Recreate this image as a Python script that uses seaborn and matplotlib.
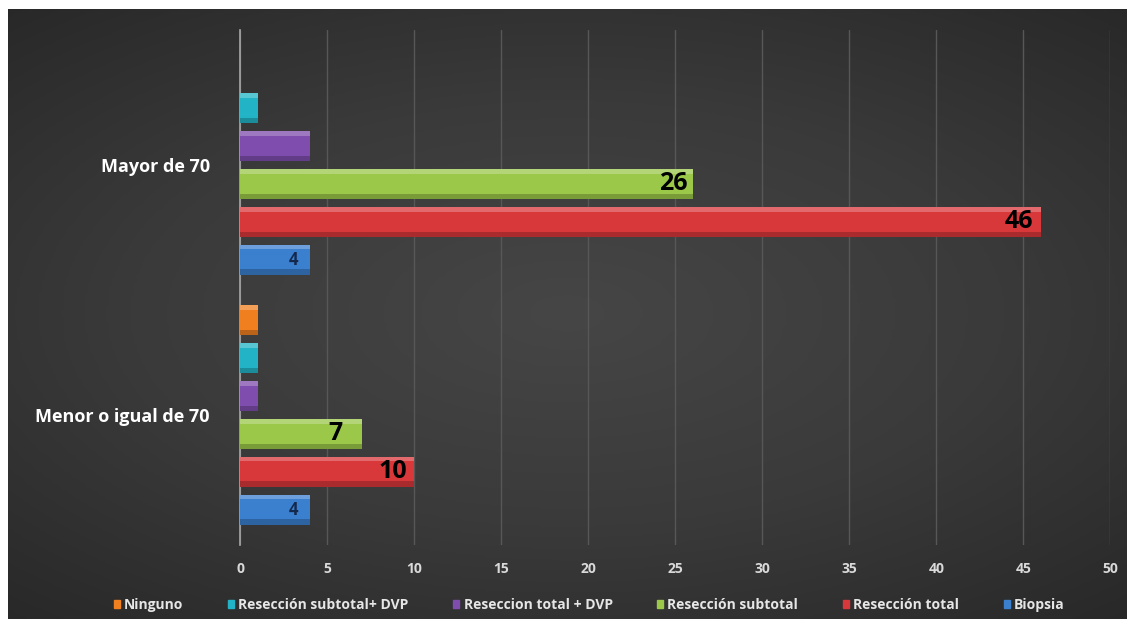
import numpy as np
import pandas as pd
import matplotlib
matplotlib.use("Agg")
import matplotlib.pyplot as plt
import seaborn as sns

# data
groups = ["Mayor de 70", "Menor o igual de 70"]
tratamientos = ["Ninguno", "Resección subtotal+ DVP", "Reseccion total + DVP",
                "Resección subtotal", "Resección total", "Biopsia"]
mayor = [0, 1, 4, 26, 46, 4]
menor = [1, 1, 1, 7, 10, 4]
colores = ["#F0801F", "#22B4C6", "#7E4DAE", "#9CC84A", "#D9383B", "#3B80CF"]
x_ticks = [0, 5, 10, 15, 20, 25, 30, 35, 40, 45, 50]

df = pd.DataFrame({
    "grupo": [groups[0]] * 6 + [groups[1]] * 6,
    "tratamiento": tratamientos * 2,
    "n": mayor + menor,
})

sns.set_style("dark")
plt.rcParams["font.family"] = ["Open Sans", "DejaVu Sans"]

fig = plt.figure(figsize=(11.33, 6.27), dpi=100)
fig.patch.set_facecolor("white")

# dark radial-ish background panel
bg = fig.add_axes([0.007, 0.012, 0.987, 0.973])
yy, xx = np.mgrid[-1:1:200j, -1:1:400j]
r = np.sqrt(xx ** 2 * 0.8 + yy ** 2)
bg.imshow(r, cmap=matplotlib.colors.LinearSegmentedColormap.from_list(
    "bgc", ["#464646", "#3a3a3a", "#272727"]), aspect="auto",
    extent=[0, 1, 0, 1], vmin=0, vmax=1.4)
bg.set_axis_off()

ax = fig.add_axes([0.212, 0.131, 0.768, 0.821])
ax.set_facecolor("none")

sns.barplot(data=df, y="grupo", x="n", hue="tratamiento", order=groups,
            hue_order=tratamientos, palette=colores, orient="h",
            width=0.91, gap=0.2, ax=ax, legend=False, zorder=3,
            saturation=1, linewidth=0)

# simple bevel: light top strip, dark bottom strip
for bar in list(ax.patches):
    x0, y0 = bar.get_x(), bar.get_y()
    w, h = bar.get_width(), bar.get_height()
    if w <= 0:
        continue
    ax.add_patch(plt.Rectangle((x0, y0 + h * 0.82), w, h * 0.18, color="black",
                               alpha=0.22, lw=0, zorder=4))
    ax.add_patch(plt.Rectangle((x0, y0), w, h * 0.16, color="white",
                               alpha=0.25, lw=0, zorder=4))

# value labels (Biopsia, Resección total, Resección subtotal)
for cont, trat in zip(ax.containers, tratamientos):
    if trat == "Biopsia":
        ax.bar_label(cont, padding=-15, color="#13284a", fontsize=12,
                     fontweight="bold", zorder=5)
    elif trat in ("Resección total", "Resección subtotal"):
        ax.bar_label(cont, padding=-(26 if trat == "Resección total" else 24),
                     color="black", fontsize=18, fontweight="bold", zorder=5)

ax.set_xlim(0, 50)
ax.set_ylim(1.52, -0.54)
ax.set_xticks(x_ticks)
ax.grid(axis="x", color="#575757", lw=1, zorder=0)
ax.grid(axis="y", visible=False)
for s in ["top", "right", "bottom"]:
    ax.spines[s].set_visible(False)
ax.spines["left"].set_color("#a8a8a8")
ax.spines["left"].set_linewidth(1.2)
ax.tick_params(axis="x", colors="#d9d9d9", labelsize=10, length=0, pad=12)
ax.tick_params(axis="y", colors="white", labelsize=13, length=0, pad=22)
for t in ax.get_xticklabels() + ax.get_yticklabels():
    t.set_fontweight("bold")
ax.set_xlabel("")
ax.set_ylabel("")

handles = [plt.Rectangle((0, 0), 1, 1, color=c) for c in colores]
leg = fig.legend(handles, tratamientos, loc="center", ncol=6,
                 bbox_to_anchor=(0.52, 0.035), frameon=False,
                 handlelength=0.45, handleheight=0.45, handletextpad=0.3,
                 columnspacing=3.2, prop={"size": 10, "weight": "bold"})
for t in leg.get_texts():
    t.set_color("#e6e6e6")

fig.savefig("out.png", dpi=100, facecolor="white")
